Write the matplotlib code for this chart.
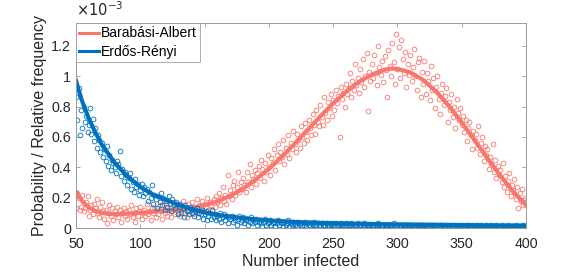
import numpy as np
import matplotlib
matplotlib.use("Agg")
import matplotlib.pyplot as plt

plt.rcParams['font.family'] = ['Liberation Sans', 'DejaVu Sans']

# ---- data (values in units of 1e-3) ----
x_start, x_end = 50, 400

ba_scatter = [
    0.13, 0.23, 0.20, 0.12, 0.14, 0.22, 0.11, 0.13, 0.17, 0.21,
    0.08, 0.12, 0.15, 0.09, 0.16, 0.13, 0.19, 0.10, 0.07, 0.14,
    0.17, 0.11, 0.06, 0.12, 0.03, 0.10, 0.15, 0.08, 0.13, 0.05,
    0.11, 0.09, 0.14, 0.07, 0.12, 0.04, 0.10, 0.13, 0.08, 0.11,
    0.06, 0.12, 0.09, 0.15, 0.07, 0.10, 0.04, 0.13, 0.08, 0.11,
    0.14, 0.06, 0.10, 0.12, 0.08, 0.16, 0.09, 0.11, 0.05, 0.13,
    0.10, 0.14, 0.07, 0.12, 0.09, 0.15, 0.11, 0.06, 0.13, 0.10,
    0.16, 0.08, 0.12, 0.14, 0.07, 0.11, 0.17, 0.09, 0.13, 0.10,
    0.15, 0.08, 0.12, 0.18, 0.10, 0.14, 0.07, 0.16, 0.11, 0.13,
    0.17, 0.09, 0.14, 0.12, 0.19, 0.10, 0.15, 0.13, 0.18, 0.11,
    0.16, 0.14, 0.20, 0.12, 0.17, 0.15, 0.11, 0.19, 0.14, 0.21,
    0.17, 0.23, 0.15, 0.20, 0.27, 0.18, 0.22, 0.16, 0.35, 0.21,
    0.25, 0.19, 0.28, 0.31, 0.22, 0.27, 0.37, 0.24, 0.30, 0.26,
    0.33, 0.28, 0.24, 0.37, 0.30, 0.42, 0.27, 0.35, 0.32, 0.38,
    0.29, 0.36, 0.41, 0.33, 0.45, 0.39, 0.31, 0.43, 0.37, 0.48,
    0.40, 0.35, 0.46, 0.43, 0.52, 0.38, 0.48, 0.55, 0.44, 0.50,
    0.47, 0.58, 0.42, 0.53, 0.49, 0.61, 0.46, 0.56, 0.52, 0.64,
    0.55, 0.50, 0.62, 0.58, 0.53, 0.67, 0.60, 0.56, 0.69, 0.63,
    0.58, 0.71, 0.66, 0.61, 0.75, 0.68, 0.62, 0.78, 0.70, 0.67,
    0.81, 0.73, 0.68, 0.86, 0.76, 0.71, 0.83, 0.79, 0.88, 0.74,
    0.84, 0.78, 0.91, 0.82, 0.87, 0.60, 0.93, 0.85, 0.89, 0.80,
    0.95, 0.88, 0.92, 1.02, 0.86, 0.97, 0.91, 1.08, 0.94, 0.99,
    0.89, 1.05, 0.96, 1.11, 0.93, 1.00, 1.15, 0.77, 1.03, 0.97,
    1.08, 0.99, 1.14, 1.02, 0.94, 1.20, 1.06, 1.01, 1.10, 0.96,
    1.13, 1.04, 0.86, 1.17, 1.07, 1.00, 1.22, 1.09, 0.95, 1.28,
    1.05, 1.19, 0.99, 1.24, 1.11, 1.02, 1.16, 0.93, 1.08, 1.01,
    1.14, 0.97, 1.06, 1.18, 1.00, 0.91, 1.09, 1.12, 0.86, 1.03,
    0.95, 1.10, 0.88, 1.02, 0.97, 0.84, 1.07, 0.91, 0.99, 0.79,
    0.93, 1.00, 0.85, 0.75, 0.89, 0.95, 0.81, 0.87, 0.92, 0.70,
    0.83, 0.78, 0.88, 0.73, 0.80, 0.66, 0.85, 0.76, 0.71, 0.79,
    0.68, 0.74, 0.63, 0.71, 0.57, 0.66, 0.70, 0.61, 0.52, 0.64,
    0.58, 0.62, 0.53, 0.67, 0.49, 0.56, 0.60, 0.44, 0.54, 0.48,
    0.52, 0.39, 0.47, 0.42, 0.55, 0.37, 0.45, 0.33, 0.41, 0.35,
    0.38, 0.30, 0.43, 0.27, 0.34, 0.24, 0.31, 0.36, 0.21, 0.28,
    0.25, 0.32, 0.19, 0.27, 0.13, 0.23, 0.18, 0.26, 0.15, 0.20,
    0.17,
]

er_scatter = [
    0.86, 0.71, 0.92, 0.61, 0.78, 0.66, 0.80, 0.70, 0.74, 0.63,
    0.68, 0.79, 0.62, 0.72, 0.57, 0.66, 0.53, 0.61, 0.58, 0.50,
    0.56, 0.47, 0.52, 0.44, 0.54, 0.41, 0.48, 0.38, 0.45, 0.43,
    0.40, 0.36, 0.44, 0.42, 0.51, 0.34, 0.39, 0.31, 0.37, 0.35,
    0.28, 0.33, 0.36, 0.26, 0.30, 0.24, 0.32, 0.27, 0.29, 0.22,
    0.25, 0.29, 0.21, 0.27, 0.23, 0.26, 0.18, 0.24, 0.20, 0.28,
    0.16, 0.22, 0.19, 0.13, 0.21, 0.17, 0.23, 0.15, 0.20, 0.12,
    0.18, 0.14, 0.21, 0.16, 0.11, 0.19, 0.15, 0.13, 0.17, 0.09,
    0.14, 0.16, 0.10, 0.13, 0.07, 0.15, 0.11, 0.12, 0.09, 0.14,
    0.10, 0.12, 0.08, 0.11, 0.13, 0.07, 0.10, 0.09, 0.12, 0.06,
    0.09, 0.11, 0.05, 0.08, 0.10, 0.06, 0.12, 0.07, 0.09, 0.05,
    0.08, 0.06, 0.10, 0.04, 0.07, 0.09, 0.05, 0.08, 0.03, 0.07,
    0.06, 0.08, 0.04, 0.07, 0.05, 0.02, 0.06, 0.08, 0.04, 0.05,
    0.07, 0.03, 0.05, 0.06, 0.02, 0.04, 0.07, 0.03, 0.05, 0.04,
    0.06, 0.02, 0.04, 0.05, 0.03, 0.01, 0.04, 0.06, 0.02, 0.03,
    0.04, 0.05, 0.02, 0.03, 0.04, 0.01, 0.03, 0.05, 0.02, 0.04,
    0.03, 0.01, 0.04, 0.02, 0.03, 0.05, 0.01, 0.03, 0.02, 0.04,
    0.02, 0.03, 0.01, 0.04, 0.02, 0.03, 0.01, 0.02, 0.04, 0.01,
    0.03, 0.02, 0.01, 0.03, 0.02, 0.04, 0.01, 0.02, 0.03, 0.01,
    0.02, 0.03, 0.01, 0.02, 0.01, 0.03, 0.02, 0.01, 0.02, 0.03,
    0.02, 0.01, 0.03, 0.02, 0.01, 0.02, 0.03, 0.01, 0.02, 0.01,
    0.03, 0.02, 0.01, 0.02, 0.03, 0.01, 0.02, 0.01, 0.02, 0.03,
    0.01, 0.02, 0.02, 0.01, 0.03, 0.02, 0.01, 0.02, 0.01, 0.02,
    0.005, 0.02, 0.01, 0.02, 0.01, 0.03, 0.02, 0.01, 0.02, 0.01,
    0.02, 0.01, 0.02, 0.01, 0.02, 0.01, 0.02, 0.03, 0.01, 0.02,
    0.005, 0.01, 0.02, 0.01, 0.02, 0.01, 0.02, 0.01, 0.02, 0.01,
    0.02, 0.01, 0.02, 0.01, 0.01, 0.02, 0.01, 0.02, 0.01, 0.02,
    0.01, 0.02, 0.01, 0.02, 0.01, 0.01, 0.02, 0.01, 0.02, 0.01,
    0.02, 0.01, 0.01, 0.02, 0.01, 0.02, 0.01, 0.01, 0.02, 0.01,
    0.01, 0.02, 0.01, 0.01, 0.02, 0.01, 0.01, 0.02, 0.01, 0.01,
    0.02, 0.01, 0.01, 0.02, 0.01, 0.01, 0.02, 0.01, 0.01, 0.02,
    0.01, 0.01, 0.02, 0.01, 0.01, 0.02, 0.01, 0.01, 0.01, 0.02,
    0.01, 0.01, 0.01, 0.02, 0.01, 0.01, 0.01, 0.02, 0.01, 0.01,
    0.01, 0.02, 0.01, 0.01, 0.01, 0.01, 0.02, 0.01, 0.01, 0.01,
    0.01, 0.01, 0.02, 0.01, 0.01, 0.01, 0.01, 0.01, 0.02, 0.01,
    0.01,
]

fit_x = [50, 52, 55, 60, 65, 70, 75, 80, 90, 100, 110, 120, 130, 140, 150,
         160, 170, 180, 190, 200, 210, 220, 230, 240, 250, 260, 270, 280,
         290, 295, 300, 310, 320, 330, 340, 350, 360, 370, 380, 390, 400]
ba_fit = [0.24, 0.215, 0.175, 0.135, 0.112, 0.100, 0.093, 0.091, 0.094, 0.100,
          0.107, 0.114, 0.121, 0.132, 0.150, 0.175, 0.212, 0.260, 0.320, 0.390,
          0.468, 0.555, 0.645, 0.735, 0.820, 0.898, 0.962, 1.010, 1.042, 1.050,
          1.048, 1.025, 0.975, 0.900, 0.805, 0.695, 0.578, 0.460, 0.345, 0.240,
          0.150]
er_fit = [0.97, 0.91, 0.83, 0.72, 0.63, 0.55, 0.49, 0.43, 0.34, 0.27,
          0.22, 0.185, 0.152, 0.125, 0.103, 0.087, 0.075, 0.065, 0.057, 0.050,
          0.045, 0.040, 0.037, 0.034, 0.032, 0.030, 0.028, 0.027, 0.025, 0.025,
          0.024, 0.023, 0.022, 0.021, 0.020, 0.019, 0.018, 0.017, 0.016, 0.016,
          0.015]

yticks = [0, 0.2, 0.4, 0.6, 0.8, 1.0, 1.2]
ytick_labels = ["0", "0.2", "0.4", "0.6", "0.8", "1", "1.2"]
xticks = [50, 100, 150, 200, 250, 300, 350, 400]

ba_color = "#F8766D"
er_color = "#0072BD"

x_sc = np.arange(x_start, x_end + 1)

fig = plt.figure(figsize=(5.81, 2.73), dpi=100)
ax = fig.add_axes([0.1308, 0.1648, 0.7745, 0.751])

ax.plot(x_sc, ba_scatter, linestyle='none', marker='o', markersize=3.4,
        markerfacecolor='none', markeredgecolor=ba_color, markeredgewidth=0.6)
ax.plot(fit_x, ba_fit, color=ba_color, lw=3.0, label='Barabási-Albert')
ax.plot(x_sc, er_scatter, linestyle='none', marker='o', markersize=3.4,
        markerfacecolor='none', markeredgecolor=er_color, markeredgewidth=0.6)
ax.plot(fit_x, er_fit, color=er_color, lw=3.0, label='Erdős-Rényi')

ax.set_xlim(50, 400)
ax.set_ylim(0, 1.35)
ax.set_xticks(xticks)
ax.set_yticks(yticks)
ax.set_yticklabels(ytick_labels)

ax.tick_params(direction='in', length=3, width=0.6, labelcolor='#262626',
               color='#9a9a9a', labelsize=10.3, top=True, right=True)
ax.tick_params(axis='x', pad=6.5)
ax.tick_params(axis='y', pad=3.5)
for s in ax.spines.values():
    s.set_color('#9a9a9a')
    s.set_linewidth(0.7)

ax.set_xlabel('Number infected', fontsize=11.5, color='#262626', labelpad=2)
ax.set_ylabel('Probability / Relative frequency', fontsize=11.5, color='#262626', labelpad=3)

ax.text(0.0, 1.02, r'$\times10^{-3}$', transform=ax.transAxes, fontsize=10.5,
        color='#262626', ha='left', va='bottom')

leg = ax.legend(loc='upper left', fontsize=10, frameon=True, fancybox=False,
                borderpad=0.25, handlelength=1.4, handletextpad=0.15,
                labelspacing=0.3, borderaxespad=0.0)
leg.get_frame().set_edgecolor('#9a9a9a')
leg.get_frame().set_linewidth(0.7)
for h in leg.get_lines():
    h.set_linewidth(2.2)

fig.savefig('out.png', dpi=100)
